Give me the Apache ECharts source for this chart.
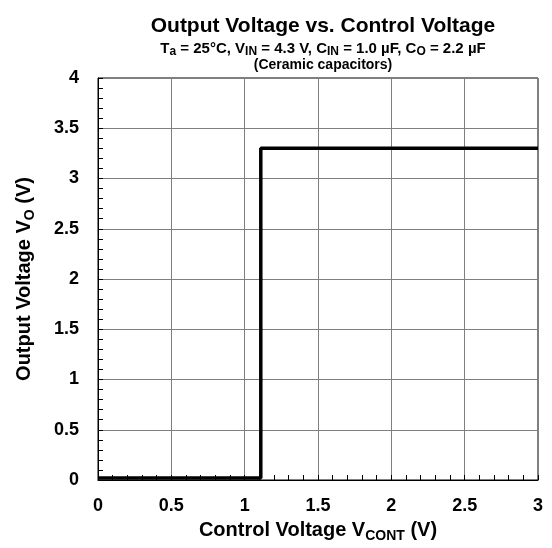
<!DOCTYPE html>
<html>
<head>
<meta charset="utf-8">
<script src="https://cdn.jsdelivr.net/npm/echarts@6/dist/echarts.min.js"></script>
<style>
  html, body { margin: 0; padding: 0; background: #fff; }
  #chart { width: 552px; height: 548px; }
</style>
</head>
<body>
<div id="chart"></div>
<script>
// step response: output stays ~0 until V_CONT threshold, then jumps to 3.3 V
const vCont = [0, 1.11, 1.11, 3];
const vOut = [0.02, 0.02, 3.3, 3.3];
const xTicks = ['0', '0.5', '1', '1.5', '2', '2.5', '3'];
const yTicks = ['0', '0.5', '1', '1.5', '2', '2.5', '3', '3.5', '4'];

const FONT = '"Liberation Sans", Arial, sans-serif';

const chart = echarts.init(document.getElementById('chart'));

const txt = (size) => ({ fontSize: size, fontWeight: 'bold', fontFamily: FONT, color: '#000' });
const sub = (size, drop) => ({ ...txt(size), verticalAlign: 'bottom', padding: [0, 0, -drop, 0] });

chart.setOption({
  backgroundColor: '#fff',
  animation: false,
  textStyle: { fontFamily: FONT },
  title: [
    {
      text: 'Output Voltage vs. Control Voltage',
      left: 318, top: 11, textAlign: 'center',
      textStyle: { ...txt(21) }
    },
    {
      text: '{m|T}{s|a}{m| = 25°C, V}{s|IN}{m| = 4.3 V, C}{s|IN}{m| = 1.0 µF, C}{s|O}{m| = 2.2 µF}',
      left: 318, top: 35, textAlign: 'center',
      textStyle: { rich: { m: { ...txt(15), lineHeight: 17 }, s: sub(12, 1) } }
    },
    {
      text: '(Ceramic capacitors)',
      left: 318, top: 53, textAlign: 'center',
      textStyle: { ...txt(14) }
    }
  ],
  grid: {
    left: 98, right: 14, top: 78, bottom: 68,
    show: true, borderColor: '#000', borderWidth: 1, backgroundColor: '#fff'
  },
  xAxis: {
    type: 'value', min: 0, max: 3, interval: 0.5,
    name: '{m|Control Voltage V}{s|CONT}{m| (V)}',
    nameLocation: 'middle', nameGap: 40,
    nameTextStyle: { rich: { m: txt(20), s: sub(14, 3) } },
    axisLine: { show: true, lineStyle: { color: '#000', width: 1 } },
    axisTick: { show: true, inside: true, length: 5, lineStyle: { color: '#000' } },
    minorTick: { show: true, splitNumber: 5, length: 5, lineStyle: { color: '#000' } },
    axisLabel: {
      margin: 17, ...txt(18),
      formatter: (v) => xTicks[Math.round(v / 0.5)]
    },
    splitLine: { show: true, lineStyle: { color: '#7f7f7f', width: 1 } }
  },
  yAxis: {
    type: 'value', min: 0, max: 4, interval: 0.5,
    name: '{m|Output Voltage V}{s|O}{m| (V)}',
    nameLocation: 'middle', nameGap: 64, nameRotate: 90,
    nameTextStyle: { rich: { m: txt(20), s: sub(14, 3) } },
    axisLine: { show: true, lineStyle: { color: '#000', width: 1 } },
    axisTick: { show: true, inside: true, length: 5, lineStyle: { color: '#000' } },
    minorTick: { show: true, splitNumber: 5, length: 5, lineStyle: { color: '#000' } },
    axisLabel: {
      margin: 19, ...txt(18),
      formatter: (v) => yTicks[Math.round(v / 0.5)]
    },
    splitLine: { show: true, lineStyle: { color: '#7f7f7f', width: 1 } }
  },
  series: [{
    type: 'line',
    data: vCont.map((x, i) => [x, vOut[i]]),
    showSymbol: false,
    lineStyle: { color: '#000', width: 3.5 },
    clip: false
  }]
});
</script>
</body>
</html>
